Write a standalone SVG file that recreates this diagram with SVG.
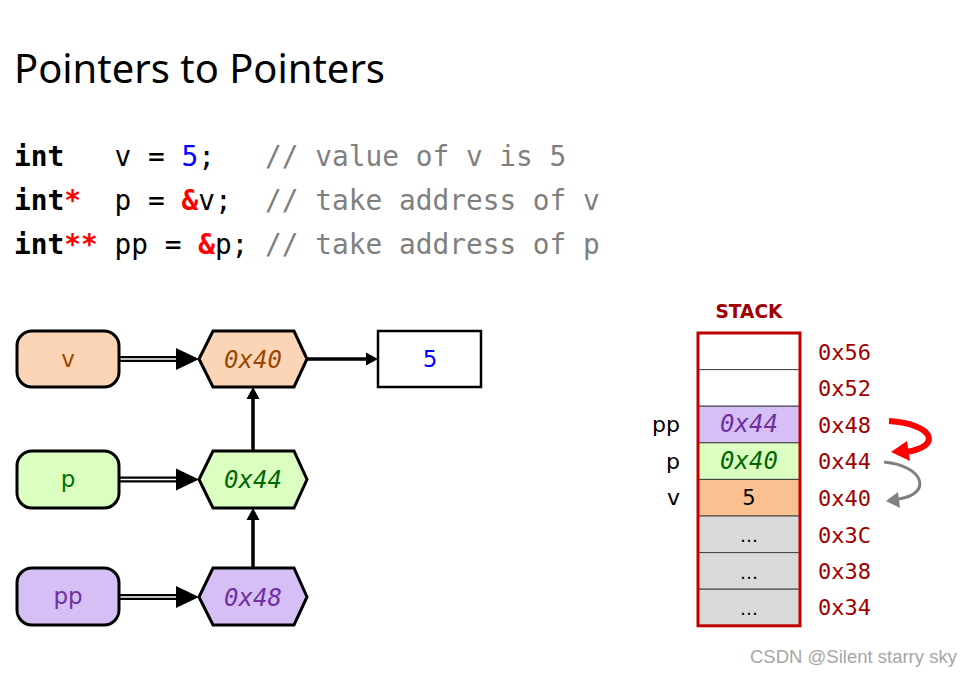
<svg xmlns="http://www.w3.org/2000/svg" width="975" height="675" viewBox="0 0 975 675">
<style>
.mono{font-family:"DejaVu Sans Mono","Liberation Mono",monospace}
.sans{font-family:"DejaVu Sans","Liberation Sans",sans-serif}
.node{stroke:#000;stroke-width:3}
.hexlbl{font-family:"DejaVu Sans Mono","Liberation Mono",monospace;font-style:italic;font-size:24px;text-anchor:middle}
.nlbl{font-family:"DejaVu Sans","Liberation Sans",sans-serif;font-size:23px;text-anchor:middle}
.addr{font-family:"DejaVu Sans Mono","Liberation Mono",monospace;font-size:22px;fill:#A00000}
.cell{stroke:#404040;stroke-width:1}
.kw{font-weight:bold;fill:#000}
.red{font-weight:bold;fill:#FF0000}
.cm{fill:#7F7F7F}
</style>
<rect width="975" height="675" fill="#fff"/>
<text x="14" y="83" font-family="'Noto Sans','Open Sans',sans-serif" font-size="40" textLength="371" lengthAdjust="spacingAndGlyphs" fill="#000">Pointers to Pointers</text>
<g id="code" class="mono" font-size="27.8">
<text x="14" y="166" xml:space="preserve"><tspan class="kw">int</tspan>   v = <tspan fill="#0000FF">5</tspan>;   <tspan class="cm">// value of v is 5</tspan></text>
<text x="14" y="210" xml:space="preserve"><tspan class="kw">int</tspan><tspan class="red">*</tspan>  p = <tspan class="red">&amp;</tspan>v;  <tspan class="cm">// take address of v</tspan></text>
<text x="14" y="254" xml:space="preserve"><tspan class="kw">int</tspan><tspan class="red">**</tspan> pp = <tspan class="red">&amp;</tspan>p; <tspan class="cm">// take address of p</tspan></text>
</g>
<g id="connectors">
<g stroke="#000" stroke-width="6"><line x1="119" y1="359" x2="178" y2="359"/><line x1="119" y1="479.5" x2="178" y2="479.5"/><line x1="119" y1="597" x2="178" y2="597"/></g>
<g stroke="#fff" stroke-width="1.6"><line x1="119" y1="359" x2="178" y2="359"/><line x1="119" y1="479.5" x2="178" y2="479.5"/><line x1="119" y1="597" x2="178" y2="597"/></g>
<polygon points="176,348 199,359 176,370" fill="#000"/>
<polygon points="176,468.5 199,479.5 176,490.5" fill="#000"/>
<polygon points="176,586 199,597 176,608" fill="#000"/>
<line x1="307" y1="359" x2="368" y2="359" stroke="#000" stroke-width="3.5"/>
<polygon points="366,352.5 378,359 366,365.5" fill="#000"/>
<line x1="253" y1="451" x2="253" y2="397" stroke="#000" stroke-width="3.5"/>
<polygon points="246.5,399 253,387 259.5,399" fill="#000"/>
<line x1="253" y1="568" x2="253" y2="518" stroke="#000" stroke-width="3.5"/>
<polygon points="246.5,520 253,508 259.5,520" fill="#000"/>
<path d="M889 421 C935 424 942 447 906 452" fill="none" stroke="#FF0000" stroke-width="6"/>
<polygon points="891,452 907,441 910,461" fill="#FF0000"/>
<path d="M884 462 C925 466 932 494 899 499" fill="none" stroke="#808080" stroke-width="3"/>
<polygon points="886,501 898,492 900,508" fill="#808080"/>
</g>
<g id="node-v"><rect class="node" x="17" y="331" width="102" height="56" rx="15" fill="#FBD5B5"/><text class="nlbl" x="68" y="367" fill="#974806">v</text></g>
<g id="node-p"><rect class="node" x="17" y="451" width="102" height="57" rx="15" fill="#DAFFC0"/><text class="nlbl" x="68" y="487" fill="#007000">p</text></g>
<g id="node-pp"><rect class="node" x="17" y="568" width="102" height="57" rx="15" fill="#D5BFF5"/><text class="nlbl" x="68" y="604" fill="#7030A0">pp</text></g>
<g id="hex-0x40"><polygon class="node" points="199,359 213,331 294,331 307,359 294,387 213,387" fill="#FBD5B5"/><text class="hexlbl" x="253" y="368" fill="#974806">0x40</text></g>
<g id="hex-0x44"><polygon class="node" points="199,479.5 213,451 294,451 307,479.5 294,508 213,508" fill="#DAFFC0"/><text class="hexlbl" x="253" y="488" fill="#006600">0x44</text></g>
<g id="hex-0x48"><polygon class="node" points="199,597 213,568 294,568 307,597 294,625 213,625" fill="#D5BFF5"/><text class="hexlbl" x="253" y="606" fill="#7030A0">0x48</text></g>
<g id="box-5"><rect x="378" y="331" width="103" height="56" fill="#fff" stroke="#000" stroke-width="2.5"/><text class="nlbl" x="430" y="367" fill="#0000FF">5</text></g>
<g id="stack">
<text x="749" y="318" text-anchor="middle" font-family="'DejaVu Sans','Liberation Sans',sans-serif" font-weight="bold" font-size="20" fill="#A00000" textLength="67" lengthAdjust="spacingAndGlyphs">STACK</text>
<rect class="cell" x="698" y="333" width="102" height="36.6" fill="#fff"/>
<rect class="cell" x="698" y="369.6" width="102" height="36.6" fill="#fff"/>
<rect class="cell" x="698" y="406.2" width="102" height="36.6" fill="#D5BFF5"/>
<rect class="cell" x="698" y="442.8" width="102" height="36.6" fill="#DAFFC0"/>
<rect class="cell" x="698" y="479.4" width="102" height="36.6" fill="#FAC090"/>
<rect class="cell" x="698" y="516" width="102" height="36.6" fill="#D9D9D9"/>
<rect class="cell" x="698" y="552.6" width="102" height="36.6" fill="#D9D9D9"/>
<rect class="cell" x="698" y="589.2" width="102" height="36.6" fill="#D9D9D9"/>
<rect x="698" y="333" width="102" height="292.8" fill="none" stroke="#C00000" stroke-width="3"/>
<text class="hexlbl" x="749" y="432" font-size="22" fill="#7030A0">0x44</text>
<text class="hexlbl" x="749" y="469" font-size="22" fill="#006600">0x40</text>
<text class="sans" x="749" y="505" font-size="21" text-anchor="middle" fill="#000">5</text>
<g class="sans" font-size="18" text-anchor="middle" fill="#000"><text x="749" y="542">…</text><text x="749" y="579">…</text><text x="749" y="615">…</text></g>
<g class="sans" font-size="22" text-anchor="end" fill="#000"><text x="680" y="432">pp</text><text x="680" y="469">p</text><text x="680" y="505">v</text></g>
<text class="addr" x="818" y="360">0x56</text>
<text class="addr" x="818" y="396">0x52</text>
<text class="addr" x="818" y="433">0x48</text>
<text class="addr" x="818" y="469">0x44</text>
<text class="addr" x="818" y="506">0x40</text>
<text class="addr" x="818" y="543">0x3C</text>
<text class="addr" x="818" y="579">0x38</text>
<text class="addr" x="818" y="615">0x34</text>
</g>
<text x="750" y="663" font-family="'Liberation Sans',Arial,sans-serif" font-size="18.5" fill="#A6A6A6">CSDN @Silent starry sky</text>
</svg>
